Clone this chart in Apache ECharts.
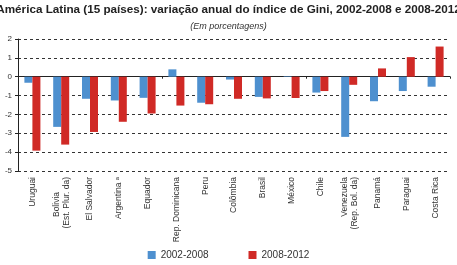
<!DOCTYPE html>
<html>
<head>
<meta charset="utf-8">
<script src="https://cdn.jsdelivr.net/npm/echarts@6/dist/echarts.min.js"></script>
<style>
  html, body { margin: 0; padding: 0; background: #fff; }
  #chart { width: 457px; height: 265px; }
</style>
</head>
<body>
<div id="chart"></div>
<script>
var countries = ['Uruguai', 'Bolivia\n(Est. Plur. da)', 'El Salvador', 'Argentina \u1d43', 'Equador',
  'Rep. Dominicana', 'Peru', 'Colômbia', 'Brasil', 'México', 'Chile',
  'Venezuela\n(Rep. Bol. da)', 'Panamá', 'Paraguai', 'Costa Rica'];
var v2002 = [-0.32, -2.66, -1.17, -1.26, -1.12, 0.39, -1.38, -0.15, -1.07, 0.03, -0.84, -3.19, -1.30, -0.76, -0.53];
var v2008 = [-3.92, -3.60, -2.93, -2.39, -1.95, -1.53, -1.46, -1.17, -1.15, -1.13, -0.76, -0.43, 0.44, 1.04, 1.60];
var yTicks = { min: -5, max: 2, step: 1 };

var font = 'Liberation Sans, Arial, sans-serif';
var chart = echarts.init(document.getElementById('chart'));

// Bolivia's first line sits centred over the second one
function labelFmt(v) {
  if (v.indexOf('Bolivia') === 0) {
    var p = v.split('\n');
    return '{t|' + p[0] + '}{gap| }\n{t|' + p[1] + '}';
  }
  return v;
}

chart.setOption({
  animation: false,
  title: [
    {
      text: 'América Latina (15 países): variação anual do índice de Gini, 2002-2008 e 2008-2012',
      left: 'center', top: -1,
      textStyle: { fontFamily: font, fontSize: 11.7, fontWeight: 'bold', color: '#222' }
    },
    {
      text: '(Em porcentagens)',
      left: 'center', top: 17,
      textStyle: { fontFamily: font, fontSize: 9, fontStyle: 'italic', fontWeight: 'normal', color: '#333' }
    }
  ],
  legend: {
    bottom: 0, left: 'center',
    itemWidth: 8, itemHeight: 8, itemGap: 40,
    icon: 'rect',
    textStyle: { fontFamily: font, fontSize: 10, color: '#333' },
    data: ['2002-2008', '2008-2012']
  },
  grid: { left: 18, right: 7, top: 39, bottom: 94 },
  xAxis: [
    {
      type: 'category', data: countries,
      axisLine: { onZero: true, lineStyle: { color: '#222', width: 1 } },
      axisTick: { show: true, length: 2, lineStyle: { color: '#222' } },
      axisLabel: { show: false }
    },
    {
      type: 'category', data: countries, position: 'bottom',
      axisLine: { show: false }, axisTick: { show: false },
      axisLabel: {
        rotate: 90, interval: 0, margin: 6,
        fontFamily: font, fontSize: 8.5, color: '#333', lineHeight: 10,
        formatter: labelFmt,
        rich: {
          t: { fontFamily: font, fontSize: 8.5, color: '#333', lineHeight: 10 },
          gap: { width: 15, fontSize: 8.5, lineHeight: 10 }
        }
      }
    }
  ],
  yAxis: {
    type: 'value', min: yTicks.min, max: yTicks.max, interval: yTicks.step,
    axisLine: { show: true, lineStyle: { color: '#222' } },
    axisTick: { show: true, length: 3, lineStyle: { color: '#222' } },
    axisLabel: { fontFamily: font, fontSize: 8, color: '#333', margin: 6 },
    splitLine: { show: true, lineStyle: { color: '#333', type: [3, 3], width: 1 } }
  },
  series: [
    {
      name: '2002-2008', type: 'bar', data: v2002, barWidth: 8, barGap: '0%',
      itemStyle: { color: '#4e90cf' }
    },
    {
      name: '2008-2012', type: 'bar', data: v2008, barWidth: 8, barGap: '0%',
      itemStyle: { color: '#d02a26' }
    }
  ]
});
</script>
</body>
</html>
